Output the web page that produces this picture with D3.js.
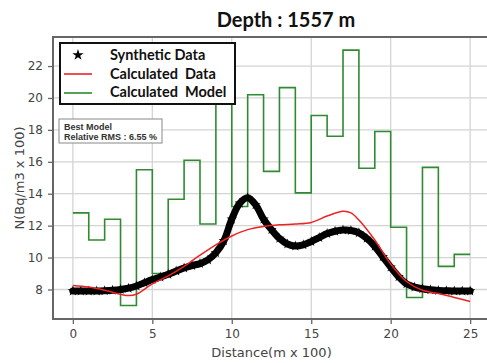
<!DOCTYPE html>
<html lang="en">
<head>
    <meta charset="UTF-8">
    <title>Depth 1557 m</title>
    <script src="https://d3js.org/d3.v7.min.js"></script>
    <style>
        body { margin: 0; background: #fff; }
        .grid line { stroke: #d4d4d4; stroke-width: 1.3; }
        .axis text { font-family: "DejaVu Sans", sans-serif; font-size: 12px; fill: #444; }
        .axis line { stroke: #666; stroke-width: 1.3; }
        .axis path { display: none; }
        .lbl { font-family: "DejaVu Sans", sans-serif; font-size: 13px; fill: #444; }
        .leg { font-family: Lato, "Open Sans", sans-serif; font-weight: bold; font-size: 14.5px; fill: #111; }
        .note { font-family: "Liberation Sans", Arial, sans-serif; font-weight: bold; font-size: 9px; fill: #333; }
    </style>
</head>
<body>
    <svg width="487" height="363"></svg>
    <script>
        // model layers, one value per unit of distance (0..24)
        var modelValues = [12.8, 11.1, 12.4, 7.0, 15.5, 9.0, 13.65, 16.1, 12.1, 21.5,
                           13.2, 20.2, 15.4, 20.65, 14.05, 18.9, 17.6, 23.0, 15.6, 17.9,
                           11.9, 7.5, 15.65, 9.45, 10.2];

        // synthetic data, every 0.5 from 0 to 25
        var synthX = d3.range(0, 25.01, 0.5);
        var synthValues = [7.9, 7.9, 7.9, 7.9, 7.92, 7.95, 8.0, 8.08, 8.22, 8.42,
                           8.62, 8.78, 8.95, 9.15, 9.35, 9.5, 9.62, 9.85, 10.3, 11.05,
                           12.4, 13.4, 13.75, 13.3, 12.4, 11.75, 11.2, 10.85, 10.72, 10.8,
                           11.0, 11.25, 11.5, 11.65, 11.72, 11.7, 11.55, 11.2, 10.7, 10.05,
                           9.4, 8.8, 8.35, 8.15, 8.05, 7.98, 7.94, 7.92, 7.9, 7.9, 7.9];

        // calculated data
        var calcX = [0, 1, 2, 3, 3.5, 4, 5, 6, 7, 8, 9, 10, 11, 12, 13, 14, 15, 16, 17, 17.5, 18, 19, 20, 21, 22, 23, 24, 25];
        var calcValues = [8.25, 8.15, 7.95, 7.7, 7.62, 7.7, 8.35, 8.85, 9.45, 10.15, 10.8, 11.35, 11.75, 11.95,
                          12.05, 12.1, 12.2, 12.6, 12.9, 12.8, 12.35, 11.1, 9.6, 8.5, 7.95, 7.75, 7.5, 7.25];

        var xTicks = [0, 5, 10, 15, 20, 25];
        var yTicks = [8, 10, 12, 14, 16, 18, 20, 22];

        var svg = d3.select("svg"),
            pLeft = 53, pRight = 490, pTop = 37, pBottom = 319;

        var x = d3.scaleLinear().domain([-1.25, 26.25]).range([pLeft, pRight]),
            y = d3.scaleLinear().domain([6.15, 23.82]).range([pBottom, pTop]);

        // grid
        var grid = svg.append("g").attr("class", "grid");
        grid.selectAll(".gx").data(xTicks).enter().append("line")
            .attr("x1", d => x(d)).attr("x2", d => x(d))
            .attr("y1", pTop).attr("y2", pBottom);
        grid.selectAll(".gy").data(yTicks).enter().append("line")
            .attr("x1", pLeft).attr("x2", pRight)
            .attr("y1", d => y(d)).attr("y2", d => y(d));

        // frame
        svg.append("rect")
            .attr("x", pLeft).attr("y", pTop)
            .attr("width", pRight - pLeft).attr("height", pBottom - pTop)
            .attr("fill", "none").attr("stroke", "#666").attr("stroke-width", 2);

        svg.append("g")
            .attr("class", "axis")
            .attr("transform", "translate(0," + pBottom + ")")
            .call(d3.axisBottom(x).tickValues(xTicks).tickSize(5).tickPadding(5));

        svg.append("g")
            .attr("class", "axis")
            .attr("transform", "translate(" + pLeft + ",0)")
            .call(d3.axisLeft(y).tickValues(yTicks).tickSize(5).tickPadding(5));

        // model steps
        var modelPts = modelValues.map((v, i) => [i, v]);
        modelPts.push([modelValues.length, modelValues[modelValues.length - 1]]);
        svg.append("path")
            .datum(modelPts)
            .attr("fill", "none")
            .attr("stroke", "#2e8b30")
            .attr("stroke-width", 1.6)
            .attr("d", d3.line().x(d => x(d[0])).y(d => y(d[1])).curve(d3.curveStepAfter));

        // synthetic data: dense star markers
        var synth = synthX.map((t, i) => [t, synthValues[i]]);
        svg.append("path")
            .datum(synth)
            .attr("fill", "none")
            .attr("stroke", "#000")
            .attr("stroke-width", 7)
            .attr("stroke-linecap", "round")
            .attr("d", d3.line().x(d => x(d[0])).y(d => y(d[1])).curve(d3.curveCatmullRom));
        svg.selectAll(".star").data(synth).enter().append("path")
            .attr("class", "star")
            .attr("transform", d => "translate(" + x(d[0]) + "," + y(d[1]) + ")")
            .attr("d", d3.symbol().type(d3.symbolStar).size(34))
            .attr("fill", "#000");

        // calculated data
        svg.append("path")
            .datum(calcX.map((t, i) => [t, calcValues[i]]))
            .attr("fill", "none")
            .attr("stroke", "#ee2222")
            .attr("stroke-width", 1.5)
            .attr("d", d3.line().x(d => x(d[0])).y(d => y(d[1])).curve(d3.curveCatmullRom));

        // labels
        svg.append("text")
            .attr("x", 286).attr("y", 27)
            .attr("text-anchor", "middle")
            .style("font-family", "Lato, 'Open Sans', sans-serif")
            .style("font-weight", "bold")
            .style("font-size", "20px")
            .style("fill", "#111")
            .text("Depth : 1557 m");

        svg.append("text")
            .attr("class", "lbl")
            .attr("x", (pLeft + pRight) / 2).attr("y", 357)
            .attr("text-anchor", "middle")
            .text("Distance(m x 100)");

        svg.append("text")
            .attr("class", "lbl")
            .attr("transform", "translate(24," + ((pTop + pBottom) / 2) + ") rotate(-90)")
            .attr("text-anchor", "middle")
            .text("N(Bq/m3 x 100)");

        // legend
        var leg = svg.append("g");
        leg.append("rect")
            .attr("x", 60).attr("y", 43).attr("width", 175).attr("height", 61)
            .attr("fill", "#fff").attr("stroke", "#111").attr("stroke-width", 2);
        leg.append("path")
            .attr("transform", "translate(78,55)")
            .attr("d", d3.symbol().type(d3.symbolStar).size(40))
            .attr("fill", "#000");
        leg.append("line").attr("x1", 64).attr("x2", 92).attr("y1", 74).attr("y2", 74)
            .attr("stroke", "#ee2222").attr("stroke-width", 1.6);
        leg.append("line").attr("x1", 64).attr("x2", 92).attr("y1", 93).attr("y2", 93)
            .attr("stroke", "#2e8b30").attr("stroke-width", 1.6);
        var legText = ["Synthetic Data", "Calculated\u00a0 Data", "Calculated\u00a0 Model"];
        leg.selectAll(".leg").data(legText).enter().append("text")
            .attr("class", "leg")
            .attr("x", 110).attr("y", (d, i) => 60 + i * 18.7)
            .text(d => d);

        // best model note
        svg.append("rect")
            .attr("x", 59).attr("y", 119).attr("width", 103).attr("height", 24)
            .attr("fill", "#fff").attr("stroke", "#888").attr("stroke-width", 1);
        svg.append("text").attr("class", "note").attr("x", 64).attr("y", 130).text("Best Model");
        svg.append("text").attr("class", "note").attr("x", 64).attr("y", 140).text("Relative RMS : 6.55 %");
    </script>
</body>
</html>
